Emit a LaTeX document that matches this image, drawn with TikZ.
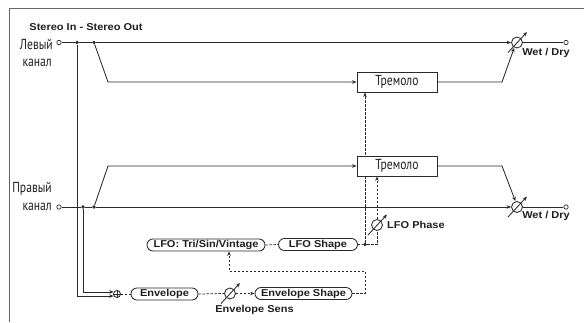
\documentclass[tikz,border=0pt]{standalone}
\usepackage{fontspec}
\usetikzlibrary{arrows.meta,backgrounds,calc}
\newfontfamily\lblfont[FakeStretch=1.1]{Liberation Sans}
\newfontfamily\cyrfont[FakeStretch=0.8]{PT Sans}
\definecolor{ln}{HTML}{2A2A2A}
\tikzset{
 lbl/.style={font=\lblfont\bfseries\fontsize{10}{12}\selectfont, text=black!88, inner sep=0pt},
 cyr/.style={font=\cyrfont\fontsize{14.5}{16}\selectfont, text=black!88, inner sep=0pt},
 sig/.style={draw=ln, line width=0.85pt},
 ctl/.style={draw=ln, line width=0.75pt, dash pattern=on 2.5pt off 1.5pt},
 tip/.style={-{Stealth[length=4.5pt,width=3.5pt]}},
 dotn/.style={circle, fill=ln, inner sep=0pt, minimum size=3.6pt},
 term/.style={circle, draw=ln, fill=white, line width=0.7pt, inner sep=0pt, minimum size=4.4pt},
 trbox/.style={draw=ln, fill=white, line width=0.85pt, minimum width=80pt, minimum height=20pt, inner sep=0pt, cyr},
 rbox/.style={draw=ln, fill=white, line width=0.85pt, rounded corners=6pt, minimum height=12pt, inner sep=0pt, lbl},
 knobc/.style={circle, draw=ln, line width=0.85pt, minimum size=11pt, inner sep=0pt},
 addc/.style={circle, draw=ln, line width=0.8pt, minimum size=7pt, inner sep=0pt},
}
\begin{document}
\begin{tikzpicture}[x=1pt,y=-1pt]
\useasboundingbox (0,0) rectangle (584,322);
\draw[draw=black!60, line width=0.8pt] (9.5,322) -- (9.5,8) -- (584,8);

% labels
\node[lbl] (title) at (86,27) {Stereo In - Stereo Out};
\node[cyr, anchor=base east] (lL1) at (53,49.3) {Левый};
\node[cyr, anchor=base east] (lL2) at (52,66.7) {канал};
\node[cyr, anchor=base east] (lR1) at (52,192.7) {Правый};
\node[cyr, anchor=base east] (lR2) at (52,210) {канал};

% left channel
\node[term] (inL) at (59,42.5) {};
\node[dotn] (dL1) at (77,42.5) {};
\node[dotn] (dL2) at (94,42.5) {};
\node[trbox] (trU) at (397,82) {Тремоло};
\node[knobc] (wdL) at (517,42.5) {};
\node[term] (outL) at (566,42.5) {};
\node[lbl] (wdLt) at (546,52.5) {Wet / Dry};
\coordinate (bL) at (108,82);
\coordinate (cL) at (502,82);

% right channel
\node[term] (inR) at (59,207) {};
\node[dotn] (dR1) at (83,207) {};
\node[dotn] (dR2) at (94,207) {};
\node[trbox] (trL) at (397,166) {Тремоло};
\node[knobc] (wdR) at (517,207) {};
\node[term] (outR) at (566,207) {};
\node[lbl] (wdRt) at (546,216) {Wet / Dry};
\coordinate (bR) at (108,166);
\coordinate (cR) at (502,166);

% control
\node[addc] (adder) at (117,294) {};
\draw[ln, line width=0.7pt] (adder.north) -- (adder.south) (adder.west) -- (adder.east);
\node[rbox, minimum width=67pt] (env) at (164.5,294) {Envelope};
\node[knobc] (envSens) at (230,293.5) {};
\node[lbl] (envSensT) at (254.5,309.5) {Envelope Sens};
\node[rbox, minimum width=97pt] (envShape) at (303.5,293.5) {Envelope Shape};
\node[rbox, minimum width=118pt] (lfo) at (206,245) {LFO: Tri/Sin/Vintage};
\node[rbox, minimum width=79pt] (lfoShape) at (318,244.5) {LFO Shape};
\node[dotn] (dlfo) at (365,244.5) {};
\node[knobc] (lfoPhase) at (377,225) {};
\node[lbl, anchor=west] (lfoPhaseT) at (387,225) {LFO Phase};
\coordinate (r1) at (365,271);
\coordinate (r2) at (229,271);

% knob arrows
\foreach \k in {wdL,wdR,envSens,lfoPhase}{
  \draw[sig, tip] ($(\k)+(-9,10)$) -- ($(\k)+(10,-10.5)$);
}

% signal connectors
\draw[sig] (inL) -- (dL1) -- (dL2);
\draw[sig,tip] (dL2) -- (wdL.west);
\draw[sig] (wdL.east) -- (outL);
\draw[sig,tip] (dL2) -- (bL) -- (trU.west);
\draw[sig,tip] (trU.east) -- (cL) -- (wdL.-118);

\draw[sig] (inR) -- (dR1) -- (dR2);
\draw[sig,tip] (dR2) -- (wdR.west);
\draw[sig] (wdR.east) -- (outR);
\draw[sig,tip] (dR2) -- (bR) -- (trL.west);
\draw[sig,tip] (trL.east) -- (cR) -- (wdR.105);

\draw[sig,tip] (dL1) |- (adder.212);
\draw[sig,tip] (dR1) |- (adder.148);

% control connectors
\draw[ctl] (adder.east) -- (env.west);
\draw[ctl] (env.east) -- (envSens.west);
\draw[ctl,tip] (envSens.east) -- (envShape.west);
\draw[ctl,tip] (envShape.east) -| (r1) -- (r2) -- (r2 |- lfo.south);
\draw[ctl] (lfo.east) -- (lfoShape.west);
\draw[ctl] (lfoShape.east) -- (dlfo);
\begin{pgfonlayer}{background}
\draw[ctl,tip] (dlfo) -- (dlfo |- trU.south);
\end{pgfonlayer}
\draw[ctl] (dlfo) -| (lfoPhase.south);
\draw[ctl,tip] (lfoPhase.north) -- (lfoPhase.north |- trL.south);
\end{tikzpicture}
\end{document}
